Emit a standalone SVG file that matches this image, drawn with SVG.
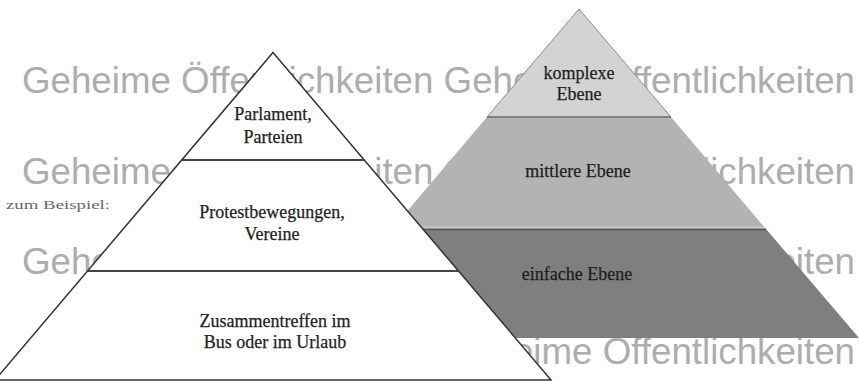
<svg xmlns="http://www.w3.org/2000/svg" width="859" height="381" viewBox="0 0 859 381">
  <style>
    .wm { font-family: "Liberation Sans", Arial, sans-serif; font-size: 37px; fill: #adadad; }
    .lbl { font-family: "Liberation Serif", "Times New Roman", serif; font-size: 18px; fill: #1e1e1e; stroke: #1e1e1e; stroke-width: 0.25; text-anchor: middle; }
    .note { font-family: "Liberation Serif", "Times New Roman", serif; font-size: 13px; fill: #666; }
    .redge { stroke: #8a8a8a; stroke-width: 1; }
    .ldiv { stroke: #454545; stroke-width: 2; }
  </style>
  <rect width="859" height="381" fill="#ffffff"/>
  <g id="watermark">
    <text class="wm" x="22" y="93" textLength="833" lengthAdjust="spacingAndGlyphs">Geheime Öffentlichkeiten Geheime Öffentlichkeiten</text>
    <text class="wm" x="22" y="183.5" textLength="833" lengthAdjust="spacingAndGlyphs">Geheime Öffentlichkeiten Geheime Öffentlichkeiten</text>
    <text class="wm" x="22" y="274" textLength="833" lengthAdjust="spacingAndGlyphs">Geheime Öffentlichkeiten Geheime Öffentlichkeiten</text>
    <text class="wm" x="22" y="364" textLength="833" lengthAdjust="spacingAndGlyphs">Geheime Öffentlichkeiten Geheime Öffentlichkeiten</text>
  </g>
  <g id="right-pyramid">
    <g id="r-top">
      <polygon points="579,9 487,117 671,117" fill="#d3d3d3" class="redge"/>
      <text class="lbl" x="579" y="79">komplexe</text>
      <text class="lbl" x="579" y="100">Ebene</text>
    </g>
    <g id="r-mid">
      <polygon points="487,117 671,117 766,229 392,229" fill="#b3b3b3"/>
      <text class="lbl" x="578" y="177">mittlere Ebene</text>
    </g>
    <g id="r-bottom">
      <polygon points="392,229 766,229 859,338 299,338" fill="#7f7f7f"/>
      <text class="lbl" x="577" y="280">einfache Ebene</text>
    </g>
    <line x1="487" y1="117" x2="671" y2="117" stroke="#6f6f6f" stroke-width="1.5"/>
    <line x1="394" y1="227" x2="764" y2="227" stroke="#d0d0d0" stroke-width="1.2"/>
    <line x1="392" y1="229.5" x2="766" y2="229.5" stroke="#555" stroke-width="1.5"/>
  </g>
  <g id="left-pyramid">
    <polygon points="273,52.5 551,380 -5,380" fill="#ffffff" stroke="#333" stroke-width="1.5"/>
    <g id="l-top">
      <text class="lbl" x="273" y="120">Parlament,</text>
      <text class="lbl" x="273" y="143">Parteien</text>
    </g>
    <g id="l-mid">
      <line class="ldiv" x1="181.6" y1="160" x2="364.4" y2="160"/>
      <text class="lbl" x="272" y="218">Protestbewegungen,</text>
      <text class="lbl" x="272" y="240">Vereine</text>
    </g>
    <g id="l-bottom">
      <line class="ldiv" x1="87.3" y1="271" x2="458.7" y2="271"/>
      <text class="lbl" x="275" y="327">Zusammentreffen im</text>
      <text class="lbl" x="275" y="348">Bus oder im Urlaub</text>
    </g>
  </g>
  <g id="note">
    <text class="note" x="6" y="209" textLength="104" lengthAdjust="spacingAndGlyphs">zum Beispiel:</text>
  </g>
</svg>
